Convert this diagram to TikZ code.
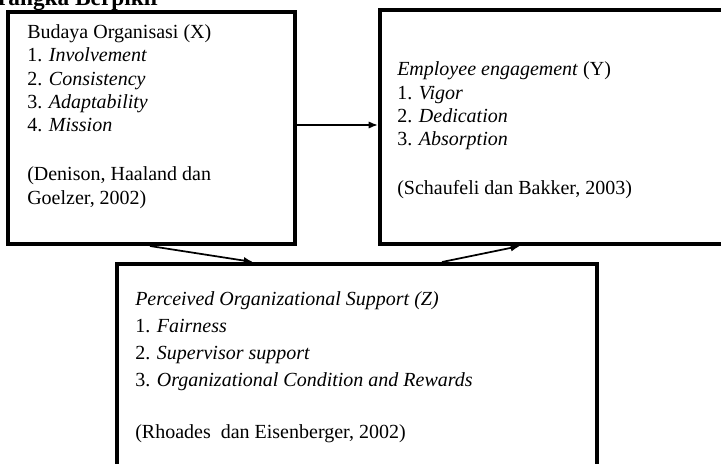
\documentclass[tikz,border=0pt]{standalone}
\usepackage{fontspec}
\setmainfont{Liberation Serif}
\usetikzlibrary{positioning, arrows.meta, calc}

\begin{document}
\begin{tikzpicture}[x=0.75pt,y=-0.75pt,
	box/.style={draw,line width=3pt,rectangle,inner sep=0pt},
	txt/.style={align=left,anchor=base west,inner sep=0pt,font=\fontsize{15}{17.55}\selectfont},
	arr/.style={-{Latex[length=7pt,width=5.5pt]},line width=1.3pt}]
	\useasboundingbox (0,0) rectangle (721,464);
	\node[anchor=base east,inner sep=0pt,font=\fontsize{17.5}{20}\selectfont\bfseries] (judul) at (161,6) {Kerangka Berpikir};
	\node[box,minimum width=215.25pt,minimum height=174pt] (box_x) at (151.5,128) {};
	\node[box,minimum width=285pt,minimum height=175.5pt] (box_y) at (570,127) {};
	\node[box,minimum width=360pt,minimum height=165pt] (box_z) at (357,374) {};
	\node[txt] (isi_x) at (27,204) {Budaya Organisasi (X)\\1. \textit{Involvement}\\2. \textit{Consistency}\\3. \textit{Adaptability}\\4. \textit{Mission}\\[19pt]
		(Denison, Haaland dan\\Goelzer, 2002)};
	\node[txt] (isi_y) at (397,194) {\textit{Employee engagement} (Y)\\1. \textit{Vigor}\\2. \textit{Dedication}\\3. \textit{Absorption}\\[18.5pt]
		(Schaufeli dan Bakker, 2003)};
	\node[txt,font=\fontsize{15}{20.25}\selectfont] (isi_z) at (135,438) {\textit{Perceived Organizational Support (Z)}\\1. \textit{Fairness}\\2. \textit{Supervisor support}\\3. \textit{Organizational Condition and Rewards}\\[18.75pt]
		(Rhoades\ \ dan Eisenberger, 2002)};
	\draw[arr] ($(box_x.east)+(0,-3)$) -- ($(box_y.west)+(0,-2)$);
	\draw[arr] ($(box_x.south)+(-1.5,0)$) -- ($(box_z.north west)+(138,0)$);
	\draw[arr] ($(box_z.north west)+(327,0)$) -- ($(box_y.south west)+(142,0)$);
\end{tikzpicture}
\end{document}
